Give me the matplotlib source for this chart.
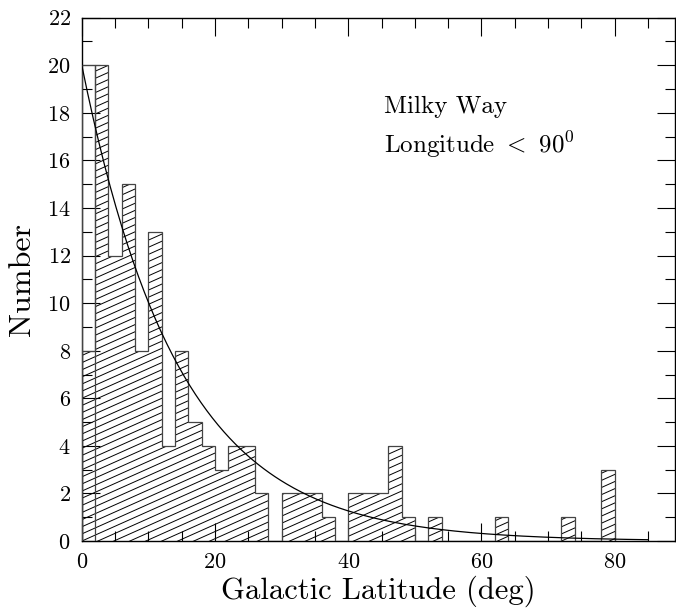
import matplotlib
matplotlib.use("Agg")
import matplotlib.pyplot as plt
import numpy as np
from matplotlib.collections import LineCollection
from matplotlib.ticker import MultipleLocator

# histogram of galactic latitude, 2 deg bins from 0 to 80
bin_edges = list(range(0, 82, 2))
counts = [8, 20, 12, 15, 8, 13, 4, 8, 5, 4,
          3, 4, 4, 2, 0, 2, 2, 2, 1, 0,
          2, 2, 2, 4, 1, 0, 1, 0, 0, 0,
          0, 1, 0, 0, 0, 0, 1, 0, 0, 3]
# first bin also drawn as an open outline at this height
first_bin_outline = 20

# exponential fit N = amp * exp(-b / scale), drawn 0..85 deg
fit_amp = 20.0
fit_scale = 14.5
fit_range = (0, 85)

plt.rcParams["font.family"] = "cmr10"
plt.rcParams["axes.formatter.use_mathtext"] = True
plt.rcParams["mathtext.fontset"] = "cm"

fig = plt.figure(figsize=(6.76, 6.10), dpi=100)
ax = fig.add_axes([0.121, 0.113, 0.877, 0.858])

ax.set_xlim(0, 89)
ax.set_ylim(0, 22)

# hatched histogram: slanted lines clipped to the step shape
step = ax.stairs(counts, bin_edges, fill=True, facecolor="none",
                 edgecolor="#444444", linewidth=0.9, zorder=3)
slope = 0.125
gap = 0.30
offsets = np.arange(-12, 22, gap)
segs = [[(0, c), (82, c + slope * 82)] for c in offsets]
hatch = LineCollection(segs, colors="black", linewidths=0.7, zorder=2)
ax.add_collection(hatch)
hatch.set_clip_path(step)

ax.stairs([first_bin_outline], bin_edges[:2], fill=False,
          edgecolor="#444444", linewidth=0.9, zorder=3)

xs = np.linspace(fit_range[0], fit_range[1], 300)
ax.plot(xs, fit_amp * np.exp(-xs / fit_scale), color="black",
        linewidth=0.9, zorder=4)

ax.text(45.3, 18.0, "Milky Way", fontsize=18, va="baseline")
ax.text(45.3, 16.3, r"Longitude $<$ 90$^0$", fontsize=18, va="baseline")

ax.xaxis.set_major_locator(MultipleLocator(20))
ax.xaxis.set_minor_locator(MultipleLocator(5))
ax.yaxis.set_major_locator(MultipleLocator(2))
ax.yaxis.set_minor_locator(MultipleLocator(1))
ax.tick_params(which="both", direction="in", top=True, right=True,
               labelsize=16, width=0.8)
ax.tick_params(axis="y", pad=8)
ax.tick_params(axis="x", pad=8)
ax.tick_params(which="major", length=13)
ax.tick_params(which="minor", length=7)
for s in ax.spines.values():
    s.set_linewidth(1.0)

ax.set_xlabel("Galactic Latitude (deg)", fontsize=22, labelpad=3)
ax.set_ylabel("Number", fontsize=23, labelpad=8)

fig.savefig("out.png", dpi=100)
